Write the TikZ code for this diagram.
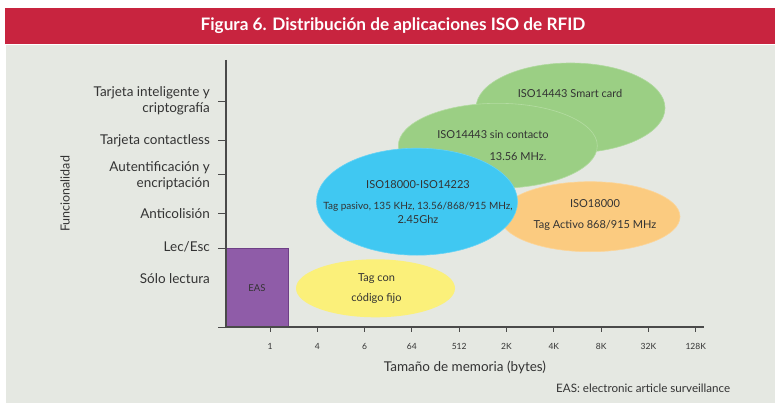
\documentclass[tikz,border=0pt]{standalone}
\usepackage{fontspec}
\setmainfont{Lato}
\usetikzlibrary{shapes.geometric}
\definecolor{bannerred}{HTML}{C8243F}
\definecolor{bggray}{HTML}{E5E8E2}
\definecolor{txt}{HTML}{333333}
\definecolor{axisgray}{HTML}{4A4A4A}
\definecolor{sky}{HTML}{40C8F2}
\definecolor{leaf}{HTML}{9BCF84}
\definecolor{leafedge}{HTML}{B4DCA2}
\definecolor{peach}{HTML}{FBCB80}
\definecolor{lemon}{HTML}{FBF07A}
\definecolor{plum}{HTML}{8F5CA8}
\definecolor{plumedge}{HTML}{6E3F86}
\tikzset{
  blob/.style={ellipse, inner sep=0pt, draw=#1!80!white, line width=0.6pt},
  axislabel/.style={text=txt, font=\fontsize{13.5}{16}\selectfont, anchor=east, align=right, inner sep=0pt},
  ticklabel/.style={text=txt, font=\fontsize{8.5}{9}\selectfont, inner sep=0pt},
  blobtext/.style={text=txt, font=\fontsize{11}{12}\selectfont, inner sep=0pt},
  axisline/.style={draw=axisgray, line width=1.1pt},
  tickline/.style={draw=axisgray, line width=0.9pt}
}
\begin{document}
\begin{tikzpicture}[x=1pt,y=-1pt]
\useasboundingbox (0,0) rectangle (775,403);
% background
\fill[bggray] (6,45) rectangle (775,403);
\fill[bannerred] (5,8) rectangle (775,44);
\node[text=white, font=\bfseries\fontsize{17.2}{18}\selectfont, inner sep=0pt] (title) at (393,26) {Figura 6. Distribución de aplicaciones ISO de RFID};

% ellipses
\node[blob=leaf, fill=leaf, minimum width=189pt, minimum height=90pt] (smart) at (570.5,108) {};
\node[blobtext, anchor=center] (smarttxt) at (570,93.3) {ISO14443 Smart card};
\node[blob=leaf, fill=leaf, draw=leafedge, minimum width=199pt, minimum height=85pt] (sincont) at (497.8,145.8) {};
\node[blobtext] (sincont1) at (493,135) {ISO14443 sin contacto};
\node[blobtext] (sincont2) at (518,156.7) {13.56 MHz.};
\node[blob=peach, fill=peach, minimum width=180pt, minimum height=70pt] (activo) at (590,216.7) {};
\node[blobtext] (activo1) at (595,204) {ISO18000};
\node[blobtext] (activo2) at (595,225) {Tag Activo 868/915 MHz};
\node[blob=sky, fill=sky, minimum width=201pt, minimum height=107pt] (pasivo) at (417,201.7) {};
\node[blobtext] (pasivo1) at (418,185) {ISO18000-ISO14223};
\node[blobtext, font=\fontsize{10}{11}\selectfont] (pasivo2) at (418,206.7) {Tag pasivo, 135 KHz, 13.56/868/915 MHz,};
\node[blobtext] (pasivo3) at (418,219.3) {2.45Ghz};
\node[blob=lemon, fill=lemon, draw=none, minimum width=159pt, minimum height=58pt] (fijo) at (375.5,288.3) {};
\node[blobtext] (fijo1) at (376.5,278.3) {Tag con};
\node[blobtext] (fijo2) at (376.5,298.3) {código fijo};

% EAS box
\node[fill=plum, draw=plumedge, line width=0.8pt, minimum width=62pt, minimum height=79pt, inner sep=0pt, anchor=north west] (eas) at (226,248) {};
\node[blobtext, font=\fontsize{9.5}{10}\selectfont] (eastxt) at (257,288) {EAS};

% axes
\coordinate (origin) at (226,327);
\coordinate (ytop) at (226,60);
\coordinate (xend) at (704,327);
\draw[axisline] (ytop) -- (origin) -- (xend);
\draw[tickline] (origin) -- ++(-8,0);

% y ticks and labels
\foreach \yy/\nm in {101.7/t1,140.3/t2,174.3/t3,213.3/t4,248.3/t5}{
  \coordinate (\nm) at (226,\yy);
  \draw[tickline] (\nm) -- ++(-8,0);
}
\node[axislabel] (l1) at (210,101) {Tarjeta inteligente y\\criptografía};
\node[axislabel] (l2) at (210,141) {Tarjeta contactless};
\node[axislabel] (l3) at (210,175.2) {Autentificación y\\encriptación};
\node[axislabel] (l4) at (210,214) {Anticolisión};
\node[axislabel] (l5) at (210,246.7) {Lec/Esc};
\node[axislabel] (l6) at (210,278.7) {Sólo lectura};
\node[text=txt, font=\fontsize{12.5}{13}\selectfont, rotate=90, inner sep=0pt] (ylab) at (65,194) {Funcionalidad};

% x ticks and labels
\foreach \lab [count=\i from 0] in {1,4,6,64,512,2K,4K,8K,32K,128K}{
  \coordinate (xt\i) at ({270+47.3*\i},327);
  \draw[tickline] (xt\i) -- ++(0,5);
  \node[ticklabel] (xl\i) at ({270+47.3*\i},346) {\lab};
}
\node[text=txt, font=\fontsize{13.5}{14}\selectfont, inner sep=0pt] (xlab) at (465,367) {Tamaño de memoria (bytes)};
\node[text=txt, font=\fontsize{11.6}{12}\selectfont, inner sep=0pt, anchor=west] (note) at (556,388) {EAS: electronic article surveillance};
\end{tikzpicture}
\end{document}
